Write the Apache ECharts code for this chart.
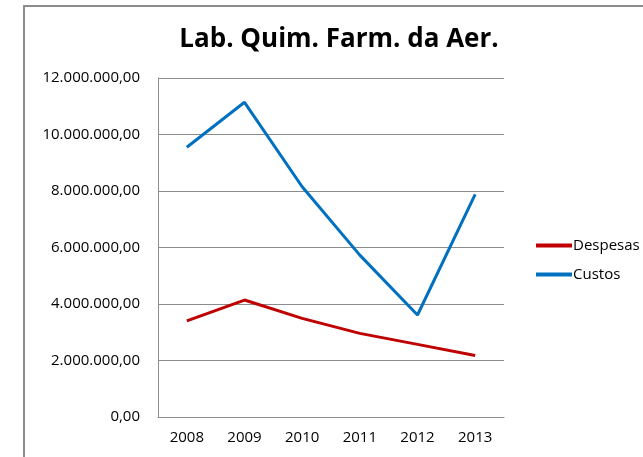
<html lang="pt">
<head>
    <meta charset="utf-8">
    <title>Lab. Quim. Farm. da Aer.</title>
    <script src="https://cdn.jsdelivr.net/npm/echarts@6.0.0/dist/echarts.min.js"></script>
    <style>
        body { margin: 0; background: #fff; }
    </style>
</head>
<body>
    <div id="chart" style="width: 643px; height: 457px;"></div>
    <script type="text/javascript">
        // dados
        var anos = ['2008', '2009', '2010', '2011', '2012', '2013'];
        var despesas = [3400000, 4140000, 3490000, 2960000, 2570000, 2180000];
        var custos = [9550000, 11140000, 8150000, 5730000, 3610000, 7880000];

        // 12000000 -> "12.000.000,00"
        function formatBR(v) {
            var s = Math.round(v).toString().replace(/\B(?=(\d{3})+(?!\d))/g, '.');
            return s + ',00';
        }

        var chart = echarts.init(document.getElementById('chart'));
        var option = {
            animation: false,
            textStyle: { fontFamily: 'Open Sans' },
            title: {
                text: 'Lab. Quim. Farm. da Aer.',
                left: 334,
                top: 22,
                textAlign: 'center',
                textStyle: { fontSize: 26, fontWeight: 'bold', color: '#000', fontFamily: 'Open Sans' }
            },
            graphic: [{
                type: 'polyline',
                shape: { points: [[24, 457], [24, 6], [643, 6]] },
                style: { stroke: '#8c8c8c', lineWidth: 2, fill: null }
            }],
            legend: {
                orient: 'vertical',
                left: 531,
                top: 233,
                itemWidth: 36,
                itemHeight: 4,
                itemGap: 14,
                icon: 'rect',
                textStyle: { fontSize: 15, color: '#000', padding: [0, 0, 0, -4] },
                data: ['Despesas', 'Custos']
            },
            grid: { left: 158, right: 139, top: 78, bottom: 40 },
            xAxis: {
                type: 'category',
                data: anos,
                boundaryGap: true,
                axisLine: { lineStyle: { color: '#8c8c8c' } },
                axisTick: { show: false },
                axisLabel: { fontSize: 15, color: '#000', margin: 13 }
            },
            yAxis: {
                type: 'value',
                min: 0,
                max: 12000000,
                interval: 2000000,
                axisLine: { show: true, lineStyle: { color: '#8c8c8c' } },
                axisTick: { show: false },
                axisLabel: { fontSize: 15, color: '#000', margin: 18, formatter: formatBR },
                splitLine: { lineStyle: { color: '#8c8c8c', width: 1 } }
            },
            series: [{
                name: 'Despesas',
                type: 'line',
                data: despesas,
                showSymbol: false,
                symbol: 'none',
                color: '#c00000',
                lineStyle: { width: 3, color: '#c00000' }
            }, {
                name: 'Custos',
                type: 'line',
                data: custos,
                showSymbol: false,
                symbol: 'none',
                color: '#0070c0',
                lineStyle: { width: 3, color: '#0070c0' }
            }]
        };
        chart.setOption(option);
    </script>
</body>
</html>
